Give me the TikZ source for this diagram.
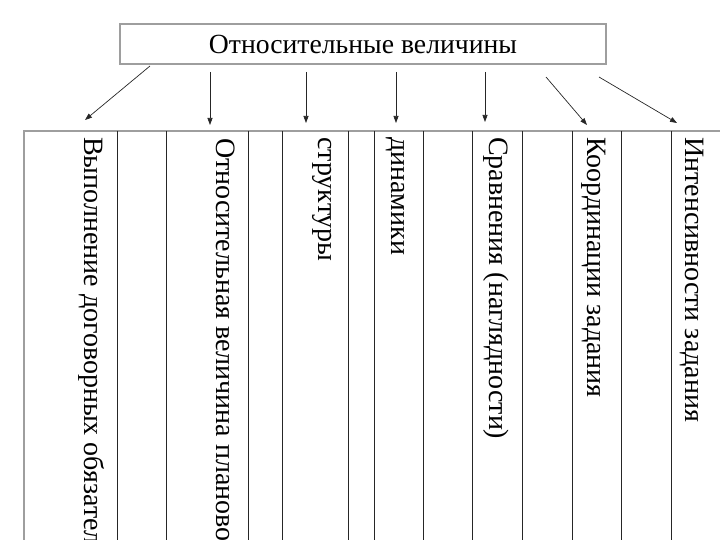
\documentclass[tikz,border=0pt]{standalone}
\usepackage{fontspec}
\setmainfont{Liberation Serif}
\usetikzlibrary{arrows.meta}
\tikzset{
  framegray/.style = {draw=black!38, line width=1.3pt},
  colline/.style = {draw=black!85, line width=0.8pt},
  pointer/.style = {draw=black!85, line width=0.7pt, -{Triangle[length=7pt,width=5pt]}},
  collabel/.style = {rotate=-90, anchor=base west, inner sep=0pt,
    font=\fontsize{28}{30}\selectfont},
}

\begin{document}
\begin{tikzpicture}[x=1pt,y=-1pt]
  \useasboundingbox (0,0) rectangle (720,540);

  \node[framegray, minimum width=486pt, minimum height=40pt, inner sep=0pt,
    font=\fontsize{27.7}{30}\selectfont] (title) at (363,44) {Относительные величины};

  % table
  \draw[framegray] (720,131) -- (24,131) -- (24,540);
  \foreach \x in {117,166,248,282,348,374,423,472,522,572,621,671}
    \draw[colline] (\x,131) -- (\x,540);

  \node[collabel] (vypolnenie) at (84,137) {Выполнение договорных обязател};
  \node[collabel] (plan) at (216,138) {Относительная величина планово};
  \node[collabel] (struktura) at (318,137) {структуры};
  \node[collabel] (dinamika) at (391,137) {динамики};
  \node[collabel] (sravnenie) at (489,137) {Сравнения (наглядности)};
  \node[collabel] (koordinacia) at (587,137) {Координации задания};
  \node[collabel] (intensivnost) at (685,137) {Интенсивности задания};

  % arrows
  \coordinate (s1) at (150,66);  \coordinate (e1) at (85,120);
  \coordinate (s2) at (210,72);  \coordinate (e2) at (210,125);
  \coordinate (s3) at (306,72);  \coordinate (e3) at (306,123);
  \coordinate (s4) at (396,72);  \coordinate (e4) at (396,123);
  \coordinate (s5) at (485,72);  \coordinate (e5) at (485,122);
  \coordinate (s6) at (546,77);  \coordinate (e6) at (587,125);
  \coordinate (s7) at (599,77);  \coordinate (e7) at (677,123);

  \foreach \i in {1,...,7}
    \draw[pointer] (s\i) -- (e\i);

\end{tikzpicture}
\end{document}
